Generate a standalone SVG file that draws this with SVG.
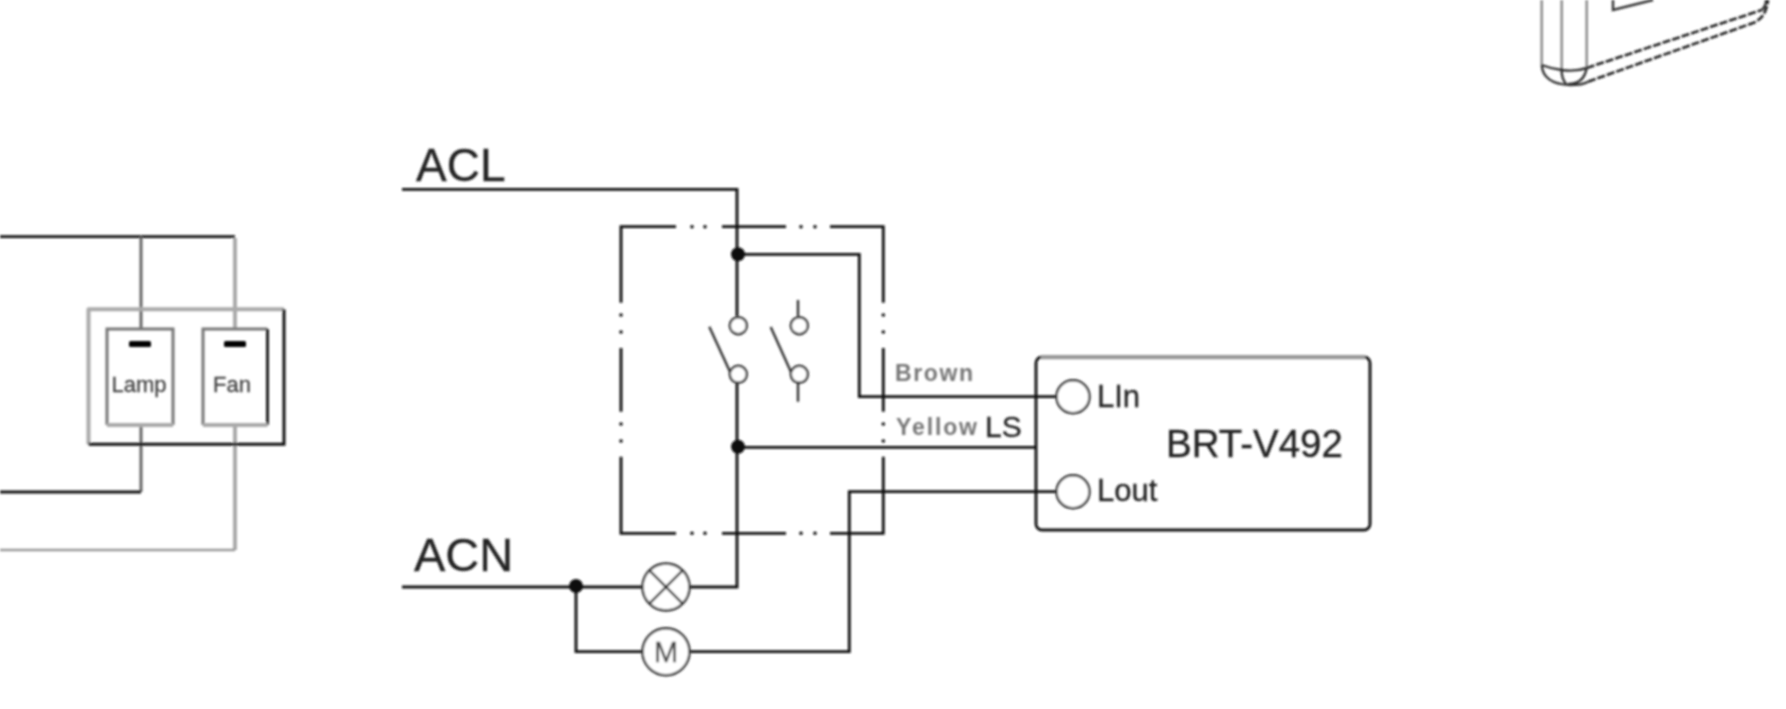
<svg xmlns="http://www.w3.org/2000/svg" width="1786" height="709" viewBox="0 0 1786 709">
<defs>
<style>
text{font-family:"Liberation Sans",Arial,sans-serif;fill:#222;stroke:#222;stroke-width:0.3}
.w{fill:none;stroke:#111;stroke-width:2.8;stroke-linejoin:miter}
.g{fill:none;stroke:#aaa;stroke-width:4}
.m{fill:none;stroke:#666;stroke-width:3}
.c{fill:#fff;stroke:#333;stroke-width:2.4}
.j{fill:#111}
.t{font-size:31px}
.p{font-size:22px;fill:#444}
.b{fill:none;stroke:#111;stroke-width:2.8}
.d{fill:none;stroke:#222;stroke-width:2.6;stroke-dasharray:8 2}
.s{fill:none;stroke:#999;stroke-width:2.4}
.h{fill:none;stroke:#333;stroke-width:2.4}
</style>
<filter id="soft" x="0" y="0" width="1786" height="709" filterUnits="userSpaceOnUse"><feGaussianBlur stdDeviation="0.8"/></filter>
</defs>
<rect width="1786" height="709" fill="#fff"/>
<g filter="url(#soft)">
<g id="connectors">
<path class="w" d="M0 236.700H235"/>
<path class="m" d="M141 236.700V329"/>
<path class="g" d="M235 238V329"/>
<path class="m" d="M141 425V492"/>
<path class="w" d="M0 492H141"/>
<path class="g" d="M235 425V550"/>
<path class="s" d="M0 550H235"/>
<path class="w" d="M402 189.300H737V316"/>
<path class="w" d="M737 254.300H859.300V396.700H1056"/>
<path class="w" d="M737 383V587H690"/>
<path class="w" d="M737 447.300H1036"/>
<path class="w" d="M402 587H642"/>
<path class="w" d="M576 587V651.700H642"/>
<path class="w" d="M690 651.700H849.300V491.700H1056"/>
</g>
<g id="switch-box">
<path class="w" d="M676 226.700H621V302.700M621 348V411.700M621 456.700V533.300H676M722 226.700H786M830 226.700H883.300V302.700M883.300 348V411.700M883.300 456.700V533.300H830M722 533.300H786"/>
<g class="j">
<circle cx="621" cy="315" r="1.800"/><circle cx="621" cy="332" r="1.800"/><circle cx="621" cy="424" r="1.800"/><circle cx="621" cy="441" r="1.800"/>
<circle cx="883.300" cy="315" r="1.800"/><circle cx="883.300" cy="332" r="1.800"/><circle cx="883.300" cy="424" r="1.800"/><circle cx="883.300" cy="441" r="1.800"/>
<circle cx="692" cy="226.700" r="1.800"/><circle cx="705" cy="226.700" r="1.800"/><circle cx="801" cy="226.700" r="1.800"/><circle cx="815" cy="226.700" r="1.800"/>
<circle cx="692" cy="533.300" r="1.800"/><circle cx="705" cy="533.300" r="1.800"/><circle cx="801" cy="533.300" r="1.800"/><circle cx="815" cy="533.300" r="1.800"/>
</g>
</g>
<g id="junctions" class="j">
<circle cx="738" cy="254.300" r="7"/><circle cx="738" cy="446.700" r="7"/><circle cx="576" cy="586" r="7"/>
</g>
<g id="switch-1">
<path class="h" d="M709.300 326.700L730 371.700"/>
<circle class="c" cx="738.300" cy="325.700" r="8.500"/><circle class="c" cx="738.300" cy="374.300" r="8.500"/>
</g>
<g id="switch-2">
<path class="h" d="M770.700 327L791 372M798 300V316M798 383V401.700"/>
<circle class="c" cx="799.300" cy="325.700" r="8.500"/><circle class="c" cx="799.300" cy="374.300" r="8.500"/>
</g>
<g id="lamp-symbol">
<circle class="c" cx="666" cy="587" r="23.500"/>
<path class="h" d="M649.400 570.400L682.600 603.600M682.600 570.400L649.400 603.600"/>
</g>
<g id="motor-symbol">
<circle class="c" cx="666" cy="651.700" r="23.500"/>
<text x="666" y="661.700" font-size="29" text-anchor="middle" style="fill:#444;stroke:#444">M</text>
</g>
<g id="labels">
<text x="416" y="180.700" font-size="46">ACL</text>
<text x="414" y="570.700" font-size="47">ACN</text>
<text x="895" y="380.700" font-size="23" font-weight="bold" style="fill:#777;stroke:none" textLength="78" lengthAdjust="spacing">Brown</text>
<text x="896" y="435" font-size="23" font-weight="bold" style="fill:#777;stroke:none" textLength="81" lengthAdjust="spacing">Yellow</text>
<text x="985" y="436.700" font-size="30">LS</text>
</g>
<g id="module">
<rect class="b" x="1036" y="357" width="334" height="173" rx="6"/>
<path class="s" d="M1041 357.500H1365" style="stroke-width:3.500"/>
<circle class="c" cx="1073" cy="396.700" r="16.500"/>
<circle class="c" cx="1073" cy="491.700" r="16.500"/>
<text class="t" x="1097" y="406.700">LIn</text>
<text class="t" x="1097" y="501">Lout</text>
<text x="1166" y="456.700" font-size="38.500">BRT-V492</text>
</g>
<g id="switch-plate">
<path class="g" d="M284 309.300H88.500V444.300" stroke-linejoin="round"/>
<path class="w" d="M284 309.300V444.300H88.500" style="stroke-width:3"/>
<g id="lamp-key">
<path class="s" d="M107 425V329H173V425" style="stroke:#777;stroke-width:3"/>
<path class="g" d="M107 425H173"/>
<rect x="129" y="341" width="22" height="6" rx="1.500" fill="#000"/>
<text class="p" x="139" y="392" text-anchor="middle" style="stroke:#444">Lamp</text>
</g>
<g id="fan-key">
<path class="s" d="M203 425V329H267.500" style="stroke:#777;stroke-width:3"/>
<path class="w" d="M267.500 329V425"/>
<path class="g" d="M203 425H267.500"/>
<rect x="224" y="341" width="22" height="6" rx="1.500" fill="#000"/>
<text class="p" x="232" y="392" text-anchor="middle" style="stroke:#444">Fan</text>
</g>
</g>
<g id="device-corner">
<path class="s" d="M1541.700 0V65M1561.700 0V68M1586.700 0V68" style="stroke:#888"/>
<path class="h" d="M1613 0V10L1653 0"/>
<path class="d" d="M1586.700 68L1761.700 10"/>
<path class="d" d="M1588 81.700L1753 23Q1766 18 1768 0"/>
<path class="h" d="M1541.700 65Q1543 84 1570 85Q1583 85 1588 81.700M1586.700 68Q1584 84 1568 84M1541.700 65Q1552 69 1561.700 70Q1575 72 1586.700 68M1561.700 68Q1561 78 1566 84M1761.700 10Q1766 6 1766 0"/>
</g>
</g>
</svg>
